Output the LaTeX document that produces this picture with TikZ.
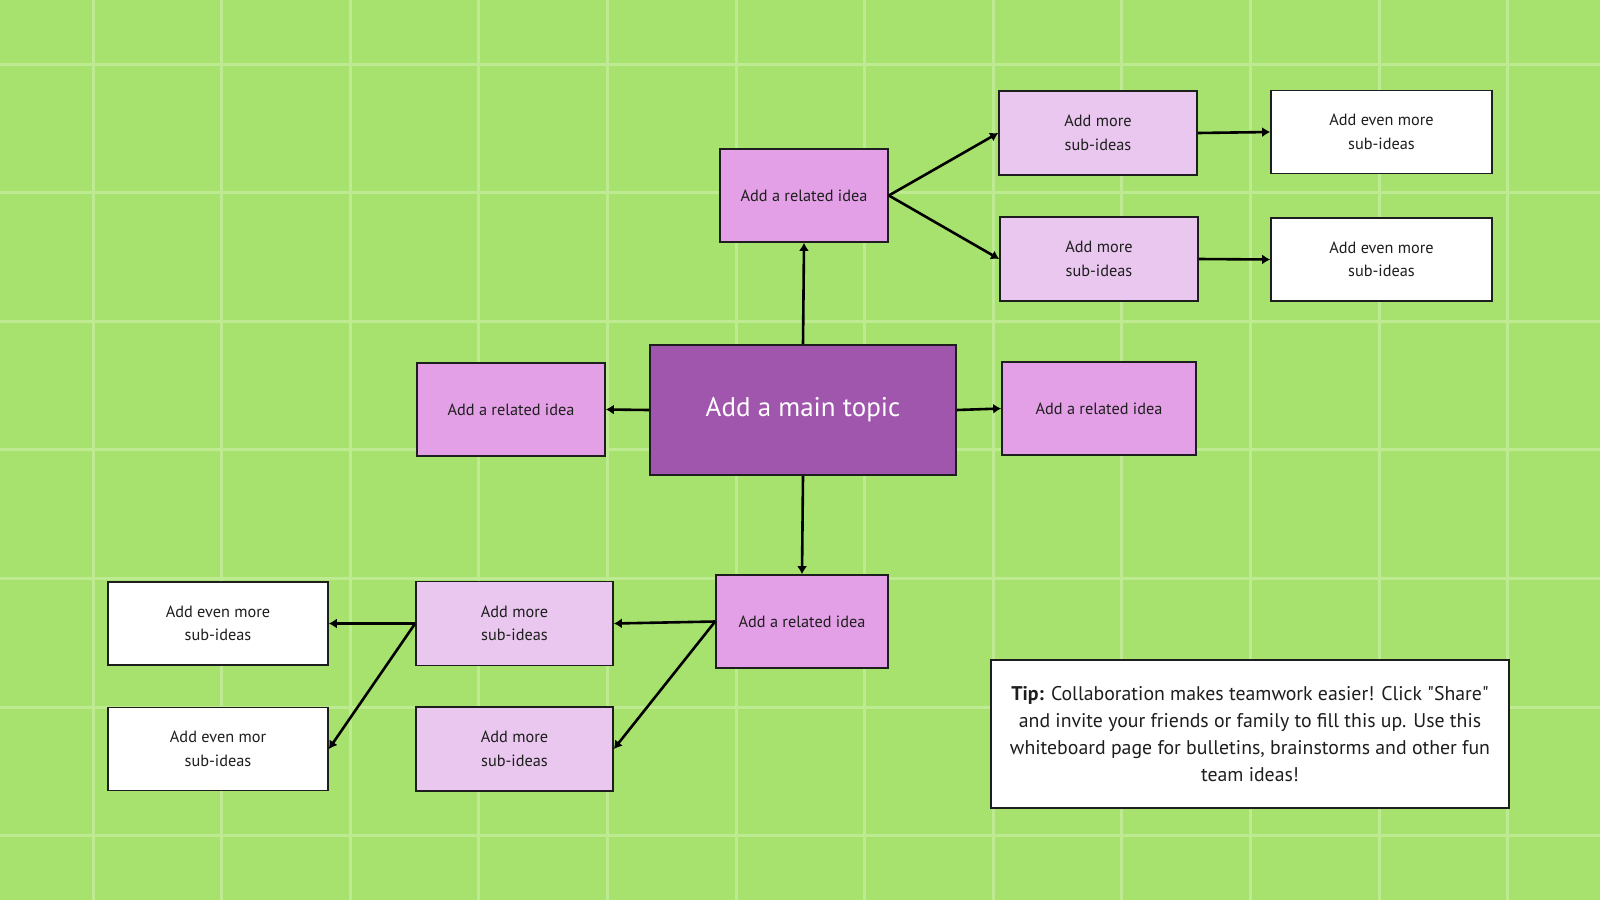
\documentclass[tikz,border=0pt]{standalone}
\usepackage{fontspec}
\setmainfont{PT Sans}
\usepackage{tikz}
\usetikzlibrary{arrows.meta}

\definecolor{board}{HTML}{A8E26E}
\definecolor{boardline}{HTML}{BEEA92}
\definecolor{ink}{HTML}{1E1E1E}
\definecolor{topicfill}{HTML}{A156AE}
\definecolor{relfill}{HTML}{E4A0E7}
\definecolor{subfill}{HTML}{E9C7EF}

\begin{document}
\begin{tikzpicture}[x=1pt, y=-1pt,
  box/.style={draw=ink, line width=1.7pt, text=ink, align=center, inner sep=0pt,
    font=\fontsize{16.3}{23.5}\selectfont},
  topic/.style={box, fill=topicfill, text=white, minimum width=306pt, minimum height=130pt,
    font=\fontsize{27}{30}\selectfont},
  related/.style={box, fill=relfill, minimum height=93pt},
  subidea/.style={box, fill=subfill, minimum width=198pt, minimum height=84pt},
  evenmore/.style={box, fill=white, minimum width=221pt, minimum height=83pt},
  link/.style={draw=black, line width=2.6pt, -{Latex[length=8pt,width=10pt]}}]

\useasboundingbox (0,0) rectangle (1600,900);

% board and grid
\fill[board] (0,0) rectangle (1600,900);
\foreach \i in {0,...,11}
  \draw[boardline, line width=3pt] (93+128.6*\i,0) -- (93+128.6*\i,900);
\foreach \j in {0,...,6}
  \draw[boardline, line width=3pt] (0,64+128.6*\j) -- (1600,64+128.6*\j);

% main topic and related ideas
\node[topic] (main) at (803,410) {\raisebox{-3pt}{Add a main topic}};
\node[related, minimum width=168pt] (reltop) at (804,195.5) {Add a related idea};
\node[related, minimum width=188pt] (relleft) at (511,409.5) {Add a related idea};
\node[related, minimum width=194pt] (relright) at (1099,408.5) {Add a related idea};
\node[related, minimum width=172pt] (relbot) at (802,621.5) {Add a related idea};

% sub-ideas
\node[subidea] (subtopa) at (1098,133) {Add more\\sub-ideas};
\node[subidea] (subtopb) at (1099,259) {Add more\\sub-ideas};
\node[evenmore] (eventopa) at (1381.5,132) {Add even more\\sub-ideas};
\node[evenmore] (eventopb) at (1381.5,259.5) {Add even more\\sub-ideas};
\node[subidea, minimum width=197pt] (subbota) at (514.5,623.5) {Add more\\sub-ideas};
\node[subidea, minimum width=197pt] (subbotb) at (514.5,749) {Add more\\sub-ideas};
\node[evenmore, minimum width=220pt] (evenbota) at (218,623.5) {Add even more\\sub-ideas};
\node[evenmore, minimum width=220pt] (evenbotb) at (218,749) {Add even mor\\sub-ideas};

% tip
\node[box, fill=white, minimum width=518pt, minimum height=148pt,
  font=\fontsize{19.8}{27}\selectfont] (tip) at (1250,734)
  {\textbf{Tip:} Collaboration makes teamwork easier! Click \textquotedbl Share\textquotedbl\\
   and invite your friends or family to fill this up. Use this\\
   whiteboard page for bulletins, brainstorms and other fun\\
   team ideas!};

% connectors
\draw[link] (main.north) -- (reltop.south);
\draw[link] (main.west) -- (relleft.east);
\draw[link] (main.east) -- (relright.west);
\draw[link] (main.south) -- (relbot.north);
\draw[link] (reltop.east) -- (subtopa.west);
\draw[link] (reltop.east) -- (subtopb.west);
\draw[link] (subtopa.east) -- (eventopa.west);
\draw[link] (subtopb.east) -- (eventopb.west);
\draw[link] (relbot.west) -- (subbota.east);
\draw[link] (relbot.west) -- (subbotb.east);
\draw[link] (subbota.west) -- (evenbota.east);
\draw[link] (subbota.west) -- (evenbotb.east);

\end{tikzpicture}
\end{document}
